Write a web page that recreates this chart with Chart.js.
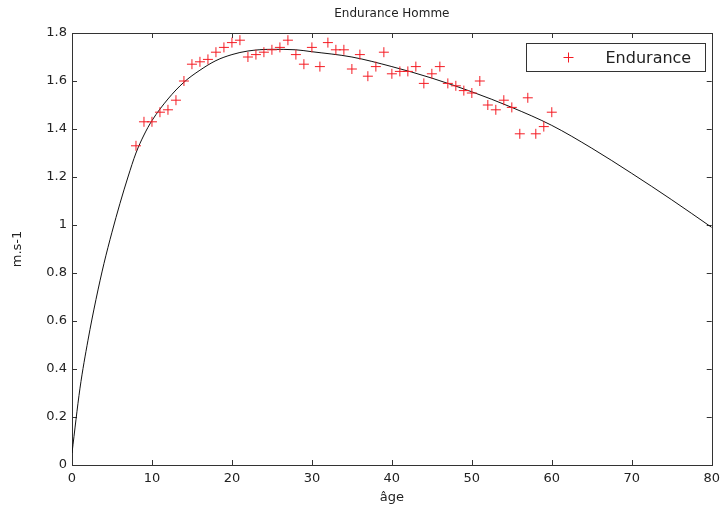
<!DOCTYPE html>
<html>
<head>
<meta charset="utf-8">
<script src="https://cdn.jsdelivr.net/npm/chart.js@4/dist/chart.umd.min.js"></script>
<style>
  html, body { margin: 0; padding: 0; background: #fff; }
</style>
</head>
<body>
<canvas id="chart" width="726" height="515"></canvas>
<script>
// measured points (age, speed in m.s-1)
const ages = [8, 9, 10, 11, 12, 13, 14, 15, 16, 17, 18, 19, 20, 21, 22, 23, 24, 25, 26, 27,
  28, 29, 30, 31, 32, 33, 34, 35, 36, 37, 38, 39, 40, 41, 42, 43, 44, 45, 46, 47,
  48, 49, 50, 51, 52, 53, 54, 55, 56, 57, 58, 59, 60];
const speeds = [1.33, 1.43, 1.43, 1.47, 1.48, 1.52, 1.60, 1.67, 1.68, 1.69, 1.72, 1.74, 1.76, 1.77, 1.70, 1.71, 1.72, 1.73, 1.74, 1.77,
  1.71, 1.67, 1.74, 1.66, 1.76, 1.73, 1.73, 1.65, 1.71, 1.62, 1.66, 1.72, 1.63, 1.64, 1.64, 1.66, 1.59, 1.63, 1.66, 1.59,
  1.58, 1.56, 1.55, 1.60, 1.50, 1.48, 1.52, 1.49, 1.38, 1.53, 1.38, 1.41, 1.47];

// fitted curve
const fitAges = [0, 1, 2, 3, 4, 5, 6, 7, 8, 9, 10, 12, 14, 16, 18, 20, 22, 25, 28, 30,
  35, 40, 45, 50, 55, 60, 65, 70, 75, 80];
const fitSpeeds = [0.05, 0.32, 0.52, 0.69, 0.84, 0.97, 1.09, 1.20, 1.30, 1.375, 1.435, 1.525, 1.595, 1.645, 1.685, 1.71, 1.725, 1.732, 1.73, 1.722,
  1.70, 1.66, 1.612, 1.555, 1.49, 1.415, 1.32, 1.215, 1.105, 0.99];

const xTicks = [0, 10, 20, 30, 40, 50, 60, 70, 80];
const yTicks = [0, 0.2, 0.4, 0.6, 0.8, 1, 1.2, 1.4, 1.6, 1.8];

const axisColor = '#333';
const markColor = '#f41c24';
const font = 'DejaVu Sans';

// matlab style box with inward ticks
const boxTicks = {
  id: 'boxTicks',
  beforeDatasetsDraw(chart) {
    const { ctx, chartArea: a, scales: { x, y } } = chart;
    ctx.save();
    ctx.strokeStyle = axisColor;
    ctx.lineWidth = 1;
    ctx.strokeRect(Math.round(a.left) + 0.5, Math.round(a.top) + 0.5,
      Math.round(a.right - a.left), Math.round(a.bottom - a.top));
    ctx.beginPath();
    xTicks.forEach(v => {
      const px = Math.round(x.getPixelForValue(v)) + 0.5;
      ctx.moveTo(px, a.bottom); ctx.lineTo(px, a.bottom - 5);
      ctx.moveTo(px, a.top); ctx.lineTo(px, a.top + 5);
    });
    yTicks.forEach(v => {
      const py = Math.round(y.getPixelForValue(v)) + 0.5;
      ctx.moveTo(a.left, py); ctx.lineTo(a.left + 5, py);
      ctx.moveTo(a.right, py); ctx.lineTo(a.right - 5, py);
    });
    ctx.stroke();
    ctx.restore();
  }
};

const legendBox = {
  id: 'legendBox',
  afterDraw(chart) {
    const { ctx, chartArea: a } = chart;
    const ds = chart.data.datasets[0];
    const w = 179, h = 28;
    const bx = Math.round(a.right) - 7 - w + 0.5, by = Math.round(a.top) + 10 + 0.5;
    ctx.save();
    ctx.fillStyle = '#fff';
    ctx.fillRect(bx, by, w, h);
    ctx.strokeStyle = axisColor;
    ctx.strokeRect(bx, by, w, h);
    const cx = bx + 42, cy = by + h / 2;
    ctx.strokeStyle = markColor;
    ctx.beginPath();
    ctx.moveTo(cx - 5, cy); ctx.lineTo(cx + 5, cy);
    ctx.moveTo(cx, cy - 5); ctx.lineTo(cx, cy + 5);
    ctx.stroke();
    ctx.fillStyle = '#222';
    ctx.font = '16px "' + font + '"';
    ctx.textBaseline = 'middle';
    ctx.fillText(ds.label, bx + 79, cy + 1);
    ctx.restore();
  }
};

new Chart(document.getElementById('chart'), {
  type: 'scatter',
  data: {
    datasets: [
      {
        label: 'Endurance',
        data: ages.map((a, i) => ({ x: a, y: speeds[i] })),
        pointStyle: 'cross',
        pointRadius: 5,
        pointBorderWidth: 1,
        borderColor: markColor,
        backgroundColor: markColor
      },
      {
        label: 'fit',
        data: fitAges.map((a, i) => ({ x: a, y: fitSpeeds[i] })),
        showLine: true,
        pointRadius: 0,
        borderColor: '#111',
        borderWidth: 1,
        cubicInterpolationMode: 'monotone'
      }
    ]
  },
  options: {
    responsive: false,
    animation: false,
    layout: { padding: { left: 0, right: 11, top: 0, bottom: 0 } },
    plugins: {
      legend: { display: false },
      tooltip: { enabled: false },
      title: {
        display: true,
        text: 'Endurance Homme',
        fullSize: false,
        color: '#222',
        font: { family: font, size: 12, weight: 'normal', lineHeight: 1.2 },
        padding: { top: 7, bottom: 11.6 }
      }
    },
    scales: {
      x: {
        type: 'linear',
        min: 0,
        max: 80,
        afterBuildTicks: s => { s.ticks = xTicks.map(v => ({ value: v })); },
        afterFit: s => { s.height = 50; },
        grid: { display: false, drawTicks: false },
        border: { display: false },
        ticks: { color: '#222', padding: 6, font: { family: font, size: 13 } },
        title: {
          display: true,
          text: 'âge',
          color: '#222',
          font: { family: font, size: 13, lineHeight: 1.2 },
          padding: { top: 0, bottom: 10 }
        }
      },
      y: {
        type: 'linear',
        min: 0,
        max: 1.8,
        afterBuildTicks: s => { s.ticks = yTicks.map(v => ({ value: v })); },
        afterFit: s => { s.width = 72; },
        grid: { display: false, drawTicks: false },
        border: { display: false },
        ticks: {
          color: '#222',
          padding: 5,
          font: { family: font, size: 13 },
          callback: v => String(+v.toFixed(1))
        },
        title: {
          display: true,
          text: 'm.s-1',
          color: '#222',
          font: { family: font, size: 13, lineHeight: 1.2 },
          padding: { top: 10, bottom: 0 }
        }
      }
    }
  },
  plugins: [boxTicks, legendBox]
});
</script>
</body>
</html>
